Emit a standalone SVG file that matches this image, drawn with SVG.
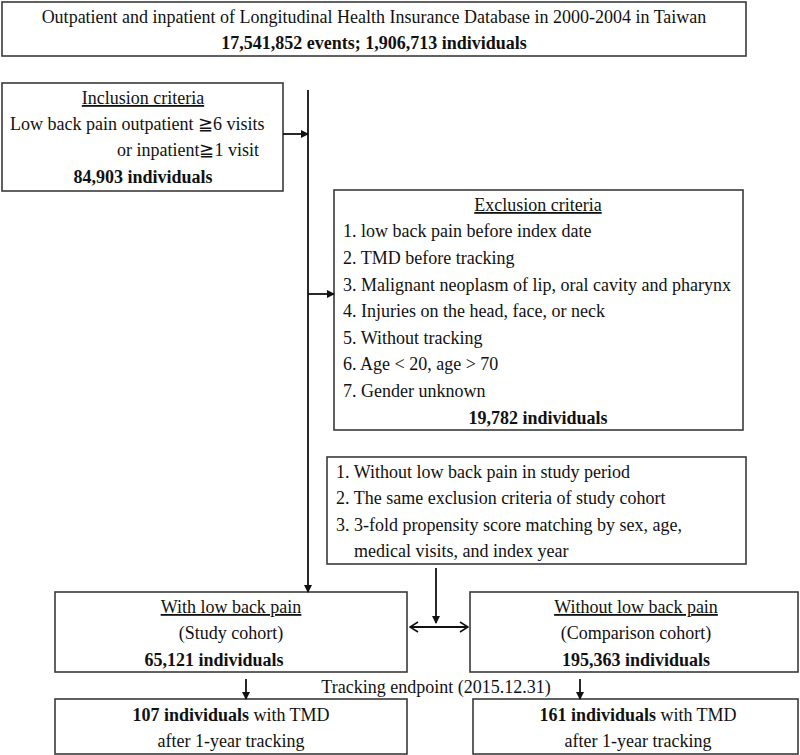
<svg xmlns="http://www.w3.org/2000/svg" width="800" height="755" viewBox="0 0 800 755">
<defs>
<style>
.box{fill:#fff;stroke:#3a3a3a;stroke-width:1.6}
text{font-family:"Liberation Serif","Times New Roman",serif;font-size:18px;fill:#111}
.c{text-anchor:middle}
.b{font-weight:bold}
.u{text-decoration:underline}
.ln{stroke:#111;stroke-width:1.8;fill:none}
</style>
<marker id="ah" markerWidth="8" markerHeight="8" refX="7" refY="4" orient="auto" markerUnits="userSpaceOnUse">
<path d="M0,0 L8,4 L0,8 Z" fill="#111"/>
</marker>
<marker id="oa" markerWidth="10" markerHeight="12" refX="9" refY="6" orient="auto-start-reverse" markerUnits="userSpaceOnUse">
<path d="M1,1 L9,6 L1,11" fill="none" stroke="#111" stroke-width="1.6"/>
</marker>
</defs>
<rect width="800" height="755" fill="#fff"/>

<g id="source">
<rect class="box" x="2" y="2" width="744" height="54"/>
<text class="c" x="374" y="23">Outpatient and inpatient of Longitudinal Health Insurance Database in 2000-2004 in Taiwan</text>
<text class="c b" x="374" y="49">17,541,852 events; 1,906,713 individuals</text>
</g>

<g id="inclusion">
<rect class="box" x="2" y="83" width="281" height="108"/>
<text class="c u" x="143" y="104">Inclusion criteria</text>
<text x="10" y="130">Low back pain outpatient  ≧6 visits</text>
<text x="117" y="156">or inpatient≧1 visit</text>
<text class="c b" x="143" y="183">84,903 individuals</text>
</g>

<g id="exclusion">
<rect class="box" x="334" y="190" width="409" height="240"/>
<text class="c u" x="538" y="211">Exclusion criteria</text>
<text x="343" y="237">1. low back pain before index date</text>
<text x="343" y="264">2. TMD before tracking</text>
<text x="343" y="291">3. Malignant neoplasm of lip, oral cavity and pharynx</text>
<text x="343" y="317">4. Injuries on the head, face, or neck</text>
<text x="343" y="344">5. Without tracking</text>
<text x="343" y="370">6. Age &lt; 20, age &gt; 70</text>
<text x="343" y="397">7. Gender unknown</text>
<text class="c b" x="538" y="424">19,782 individuals</text>
</g>

<g id="matching">
<rect class="box" x="327" y="457" width="419" height="107"/>
<text x="336" y="478">1. Without low back pain in study period</text>
<text x="336" y="504">2. The same exclusion criteria of study cohort</text>
<text x="336" y="531">3. 3-fold propensity score matching by sex, age,</text>
<text x="354" y="557">medical visits, and index year</text>
</g>

<g id="study">
<rect class="box" x="55" y="592" width="352" height="80"/>
<text class="c u" x="231" y="613">With low back pain</text>
<text class="c" x="231" y="639">(Study cohort)</text>
<text class="c b" x="214" y="666">65,121 individuals</text>
</g>

<g id="comparison">
<rect class="box" x="470" y="592" width="328" height="80"/>
<text class="c u" x="636" y="613">Without low back pain</text>
<text class="c" x="636" y="639">(Comparison cohort)</text>
<text class="c b" x="636" y="666">195,363 individuals</text>
</g>

<g id="study-outcome">
<rect class="box" x="55" y="699" width="352" height="55"/>
<text class="c" x="231" y="721"><tspan class="b">107 individuals</tspan> with TMD</text>
<text class="c" x="231" y="747">after 1-year tracking</text>
</g>

<g id="comparison-outcome">
<rect class="box" x="473" y="699" width="325" height="55"/>
<text class="c" x="638" y="721"><tspan class="b">161 individuals</tspan> with TMD</text>
<text class="c" x="638" y="747">after 1-year tracking</text>
</g>

<g id="tracking-label">
<text class="c" x="436" y="693">Tracking endpoint (2015.12.31)</text>
</g>

<g id="connectors">
<line class="ln" x1="308" y1="90" x2="308" y2="592" marker-end="url(#ah)"/>
<line class="ln" x1="283" y1="134" x2="308" y2="134" marker-end="url(#ah)"/>
<line class="ln" x1="308" y1="294" x2="334" y2="294" marker-end="url(#ah)"/>
<line class="ln" x1="436" y1="568" x2="436" y2="623" marker-end="url(#ah)"/>
<line class="ln" x1="410" y1="627" x2="468" y2="627" marker-start="url(#oa)" marker-end="url(#oa)"/>
<line class="ln" x1="246" y1="679" x2="246" y2="699" marker-end="url(#ah)"/>
<line class="ln" x1="580" y1="679" x2="580" y2="699" marker-end="url(#ah)"/>
</g>
</svg>
